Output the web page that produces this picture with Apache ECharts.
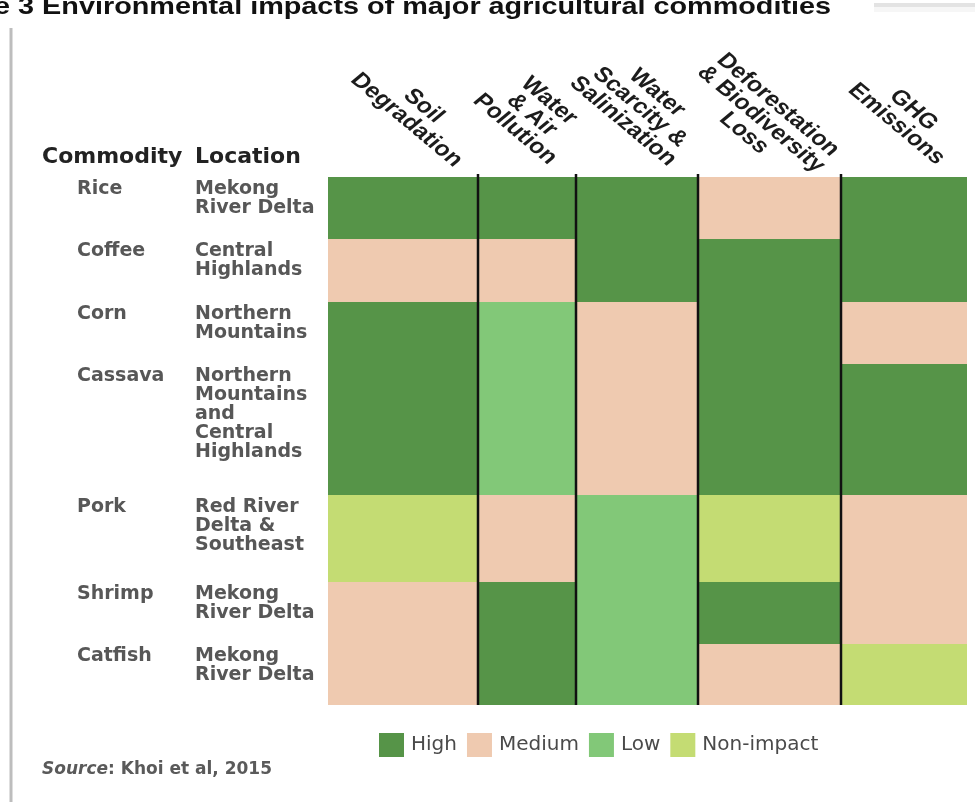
<!DOCTYPE html>
<html>
<head>
<meta charset="utf-8">
<script src="https://cdn.jsdelivr.net/npm/echarts@6/dist/echarts.min.js"></script>
<style>
  html, body { margin: 0; padding: 0; background: #fff; }
  #chart { width: 975px; height: 802px; }
</style>
</head>
<body>
<div id="chart"></div>
<script>
// table data
const commodities = ["Rice", "Coffee", "Corn", "Cassava", "Pork", "Shrimp", "Catfish"];
const locations = [
  "Mekong\nRiver Delta",
  "Central\nHighlands",
  "Northern\nMountains",
  "Northern\nMountains\nand\nCentral\nHighlands",
  "Red River\nDelta &\nSoutheast",
  "Mekong\nRiver Delta",
  "Mekong\nRiver Delta",
];
const impacts = [
  "Soil\nDegradation",
  "Water\n& Air\nPollution",
  "Water\nScarcity &\nSalinization",
  "Deforestation\n& Biodiversity\nLoss",
  "GHG\nEmissions",
];
const levels = ["High", "Medium", "Low", "Non-impact"];

// impact level per commodity (same order as commodities)
const soilDegradation = ["High", "Medium", "High", "High", "Non-impact", "Medium", "Medium"];
const waterAirPollution = ["High", "Medium", "Low", "Low", "Medium", "High", "High"];
const waterScarcity = ["High", "High", "Medium", "Medium", "Low", "Low", "Low"];
const deforestation = ["Medium", "High", "High", "High", "Non-impact", "High", "Medium"];
const ghgEmissions = ["High", "High", "Medium", "High", "Medium", "Medium", "Non-impact"];

// layout (row heights / column widths in px)
const rowHeights = [62, 63, 62, 131, 87, 62, 61];
const colWidths = [150, 98, 122, 143, 126];
const levelColors = ["#569448", "#EFCAB0", "#82C878", "#C4DC73"];
const headerShift = [[-63, -64], [-44, -62], [-58, -70], [-80, -58], [-62, -60]];

const columns = [soilDegradation, waterAirPollution, waterScarcity, deforestation, ghgEmissions];
const rowEdges = [0];
rowHeights.forEach((h) => rowEdges.push(rowEdges[rowEdges.length - 1] + h));
const colEdges = [0];
colWidths.forEach((w) => colEdges.push(colEdges[colEdges.length - 1] + w));
const totalH = rowEdges[rowEdges.length - 1];
const totalW = colEdges[colEdges.length - 1];

const chart = echarts.init(document.getElementById("chart"));

function cellItem(params, api) {
  const c = api.value(0);
  const r = api.value(1);
  const p0 = api.coord([colEdges[c], rowEdges[r]]);
  const p1 = api.coord([colEdges[c + 1], rowEdges[r + 1]]);
  return {
    type: "rect",
    shape: { x: p0[0], y: p0[1], width: p1[0] - p0[0], height: p1[1] - p0[1] },
    style: { fill: api.visual("color") },
  };
}

const cellSeries = levels.map((lv, k) => {
  const data = [];
  columns.forEach((col, c) => {
    col.forEach((v, r) => {
      if (v === lv) data.push([c, r]);
    });
  });
  return {
    type: "custom",
    name: lv,
    renderItem: cellItem,
    itemStyle: { color: levelColors[k] },
    data: data,
    silent: true,
  };
});

// black separators between impact columns
const sepSeries = {
  type: "custom",
  name: "sep",
  silent: true,
  z: 5,
  data: [[1], [2], [3], [4]],
  renderItem: (params, api) => {
    const i = colEdges[params.dataIndex + 1];
    const a = api.coord([i, 0]);
    const b = api.coord([i, totalH]);
    return {
      type: "line",
      shape: { x1: a[0], y1: a[1] - 3, x2: b[0], y2: b[1] },
      style: { stroke: "#111", lineWidth: 2.5 },
    };
  },
};

// commodity + location text at top of each row
const rowLabelSeries = {
  type: "custom",
  name: "rows",
  silent: true,
  data: commodities.map((c, i) => [i]),
  renderItem: (params, api) => {
    const r = params.dataIndex;
    const y = api.coord([0, rowEdges[r]])[1] + 3;
    return {
      type: "group",
      children: [
        {
          type: "text",
          x: 77,
          y: y,
          style: {
            text: commodities[r],
            font: 'bold 19px "DejaVu Sans"',
            fill: "#575757",
            verticalAlign: "top",
          },
        },
        {
          type: "text",
          x: 195,
          y: y,
          style: {
            text: locations[r],
            font: 'bold 19px "DejaVu Sans"',
            lineHeight: 19,
            fill: "#575757",
            verticalAlign: "top",
          },
        },
      ],
    };
  },
};

// rotated impact headers (the picture is stretched sideways)
const headerSeries = {
  type: "custom",
  name: "headers",
  silent: true,
  data: impacts.map((t, i) => [i]),
  renderItem: (params, api) => {
    const c = params.dataIndex;
    const p = api.coord([colEdges[c + 1], 0]);
    return {
      type: "group",
      x: p[0] + headerShift[c][0],
      y: p[1] + headerShift[c][1],
      scaleX: 1.2,
      children: [
        {
          type: "text",
          rotation: -Math.PI / 4,
          style: {
            text: impacts[c],
            font: 'bold 21px "Liberation Sans"',
            lineHeight: 20,
            fill: "#1c1c1c",
            align: "center",
            verticalAlign: "middle",
          },
        },
      ],
    };
  },
};

chart.setOption({
  animation: false,
  backgroundColor: "#fff",
  grid: { left: 328, top: 177, width: totalW, height: totalH },
  xAxis: { type: "value", min: 0, max: totalW, show: false },
  yAxis: { type: "value", min: 0, max: totalH, inverse: true, show: false },
  legend: {
    data: levels,
    left: 374,
    top: 728,
    icon: "rect",
    itemWidth: 25,
    itemHeight: 24,
    itemGap: 10,
    selectedMode: false,
    textStyle: {
      fontFamily: "DejaVu Sans",
      fontSize: 20,
      color: "#4a4a4a",
      padding: [0, 0, 0, 2],
    },
  },
  graphic: [
    {
      type: "group",
      x: -63,
      y: 19,
      scaleX: 1.2,
      children: [
        {
          type: "text",
          style: {
            text: "Table 3 Environmental impacts of major agricultural commodities",
            font: 'bold 24px "Liberation Sans"',
            fill: "#111",
            verticalAlign: "bottom",
          },
        },
      ],
    },
    { type: "rect", shape: { x: 874, y: 3, width: 101, height: 4 }, style: { fill: "#e3e3e3" } },
    { type: "rect", shape: { x: 874, y: 7, width: 101, height: 5 }, style: { fill: "#f6f6f6" } },
    { type: "line", shape: { x1: 11, y1: 28, x2: 11, y2: 802 }, style: { stroke: "#bdbdbd", lineWidth: 3 } },
    {
      type: "text",
      x: 42,
      y: 157,
      style: { text: "Commodity", font: 'bold 22px "DejaVu Sans"', fill: "#222", verticalAlign: "middle" },
    },
    {
      type: "text",
      x: 195,
      y: 157,
      style: { text: "Location", font: 'bold 22px "DejaVu Sans"', fill: "#222", verticalAlign: "middle" },
    },
    {
      type: "text",
      x: 42,
      y: 770,
      style: {
        text: "{i|Source}: Khoi et al, 2015",
        font: 'bold 17px "DejaVu Sans"',
        fill: "#5a5a5a",
        verticalAlign: "middle",
        rich: { i: { fontStyle: "italic", fontWeight: "bold", fontFamily: "DejaVu Sans", fontSize: 17, fill: "#5a5a5a" } },
      },
    },
  ],
  series: [...cellSeries, sepSeries, rowLabelSeries, headerSeries],
});
</script>
</body>
</html>
